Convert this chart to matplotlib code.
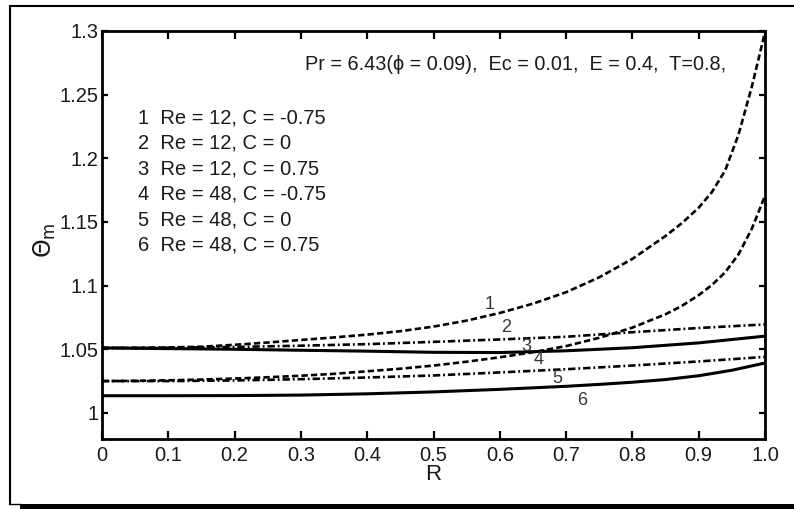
import matplotlib
matplotlib.use("Agg")
import matplotlib.pyplot as plt
from matplotlib.lines import Line2D
from matplotlib.patches import Rectangle

plt.rcParams['font.family'] = ['Liberation Sans', 'DejaVu Sans']
plt.rcParams['mathtext.fontset'] = 'dejavusans'

# ---------------- data ----------------
R1 = [0.0, 0.05, 0.1, 0.15, 0.2, 0.25, 0.3, 0.35, 0.4, 0.45, 0.5, 0.55,
      0.6, 0.65, 0.7, 0.75, 0.8, 0.85, 0.875, 0.9, 0.92, 0.94, 0.96, 0.98, 1.0]
theta1 = [1.051, 1.0511, 1.0514, 1.0520, 1.0535, 1.0553, 1.0573, 1.0593, 1.0615,
          1.0642, 1.0678, 1.0725, 1.0785, 1.0858, 1.0948, 1.1065, 1.1210,
          1.1390, 1.1492, 1.1612, 1.1735, 1.1905, 1.2185, 1.2560, 1.2990]

R4 = [0.0, 0.05, 0.1, 0.15, 0.2, 0.25, 0.3, 0.35, 0.4, 0.45, 0.5, 0.55,
      0.6, 0.65, 0.7, 0.75, 0.8, 0.85, 0.875, 0.9, 0.92, 0.94, 0.96, 0.98, 1.0]
theta4 = [1.025, 1.0252, 1.0256, 1.0262, 1.027, 1.0280, 1.0292, 1.0307, 1.0327,
          1.0347, 1.0372, 1.0402, 1.0437, 1.0477, 1.0525, 1.0590, 1.0670,
          1.0775, 1.0842, 1.0925, 1.1005, 1.1105, 1.1245, 1.1445, 1.1705]

R = [0.0, 0.1, 0.2, 0.3, 0.4, 0.5, 0.6, 0.7, 0.8, 0.9, 1.0]
theta2 = [1.051, 1.0512, 1.0518, 1.0528, 1.0540, 1.0558, 1.0577, 1.0598, 1.0634, 1.0667, 1.0695]
theta3 = [1.051, 1.0505, 1.0500, 1.0492, 1.0485, 1.0476, 1.0474, 1.0488, 1.0512, 1.0550, 1.0603]
theta5 = [1.025, 1.0250, 1.0255, 1.0265, 1.0278, 1.0294, 1.0318, 1.0343, 1.0372, 1.0404, 1.0440]

R6 = [0.0, 0.1, 0.2, 0.3, 0.4, 0.5, 0.6, 0.7, 0.75, 0.8, 0.85, 0.9, 0.95, 1.0]
theta6 = [1.0135, 1.0135, 1.0136, 1.0140, 1.0150, 1.0165, 1.0185, 1.0209,
          1.0224, 1.0241, 1.0262, 1.0292, 1.0335, 1.0392]

curve_ids = ['1', '2', '3', '4', '5', '6']
label_R = [0.585, 0.610, 0.640, 0.658, 0.686, 0.725]
label_theta = [1.085, 1.0667, 1.0522, 1.0417, 1.0272, 1.010]

legend_lines = ['1  Re = 12, C = -0.75', '2  Re = 12, C = 0', '3  Re = 12, C = 0.75',
                '4  Re = 48, C = -0.75', '5  Re = 48, C = 0', '6  Re = 48, C = 0.75']
param_text = 'Pr = 6.43(\u03d5 = 0.09),  Ec = 0.01,  E = 0.4,  T=0.8,'

xticks = [0, 0.1, 0.2, 0.3, 0.4, 0.5, 0.6, 0.7, 0.8, 0.9, 1.0]
xticklabels = ['0', '0.1', '0.2', '0.3', '0.4', '0.5', '0.6', '0.7', '0.8', '0.9', '1.0']
yticks = [1.0, 1.05, 1.1, 1.15, 1.2, 1.25, 1.3]
yticklabels = ['1', '1.05', '1.1', '1.15', '1.2', '1.25', '1.3']

# ---------------- figure ----------------
W, H = 794, 509
fig = plt.figure(figsize=(W / 100, H / 100), dpi=100)
ax = fig.add_axes([102 / W, 1 - 439 / H, (765 - 102) / W, (439 - 31) / H])

lw_d = 1.9
lw_s = 2.2
dashed = (2.4, 1.2)
dashdot = (2.8, 1.1, 0.7, 1.1)

ax.plot(R1, theta1, color='black', lw=lw_d, dashes=dashed)
ax.plot(R, theta2, color='black', lw=lw_d, dashes=dashdot)
ax.plot(R, theta3, color='black', lw=lw_s, ls='-')
ax.plot(R4, theta4, color='black', lw=lw_d, dashes=dashed)
ax.plot(R, theta5, color='black', lw=lw_d, dashes=dashdot)
ax.plot(R6, theta6, color='black', lw=lw_s, ls='-')

for cid, xr, yt in zip(curve_ids, label_R, label_theta):
    ax.text(xr, yt, cid, fontsize=13, color='#3b3630', ha='center', va='center')

ax.set_xlim(0, 1.0)
ax.set_ylim(0.9795, 1.3)
ax.set_xticks(xticks)
ax.set_xticklabels(xticklabels)
ax.set_yticks(yticks)
ax.set_yticklabels(yticklabels)

for sp in ax.spines.values():
    sp.set_linewidth(2.0)

ax.tick_params(axis='x', which='both', direction='in', top=True, bottom=True,
               length=6, width=1.6, labelsize=14.5, pad=5, colors='black')
ax.tick_params(axis='y', which='both', direction='in', left=True, right=True,
               length=4, width=1.6, labelsize=14.5, pad=2.5, colors='black')
for t in ax.get_xticklabels() + ax.get_yticklabels():
    t.set_color('#1a1a1a')

ax.set_xlabel('R', fontsize=16, labelpad=-1, color='#1a1a1a')
ax.set_ylabel(r'$\Theta_{\mathrm{m}}$', fontsize=17, color='#1a1a1a')
ax.yaxis.set_label_coords(-0.067, 0.487)

# parameter text
ax.text(0.306, 0.904, param_text, transform=ax.transAxes, fontsize=14.3,
        ha='left', va='baseline', color='#1a1a1a')

# legend-like text block
for i, s in enumerate(legend_lines):
    ax.text(0.054, 0.7738 - 0.0625 * i, s, transform=ax.transAxes, fontsize=14.5,
            ha='left', va='baseline', color='#1a1a1a')

# outer frame with shadow
fig.add_artist(Line2D([10 / W, 10 / W], [1 - 6 / H, 1 - 504 / H], transform=fig.transFigure,
                      color='black', lw=1.5))
fig.add_artist(Line2D([10 / W, 1.0], [1 - 6 / H, 1 - 6 / H], transform=fig.transFigure,
                      color='black', lw=1.5))
fig.add_artist(Line2D([10 / W, 20 / W], [1 - 504 / H, 1 - 504 / H], transform=fig.transFigure,
                      color='black', lw=1.0))
fig.add_artist(Rectangle((20 / W, 0), 1.0, 5 / H, transform=fig.transFigure,
                         facecolor='black', edgecolor='none'))

fig.savefig('out.png', dpi=100)
